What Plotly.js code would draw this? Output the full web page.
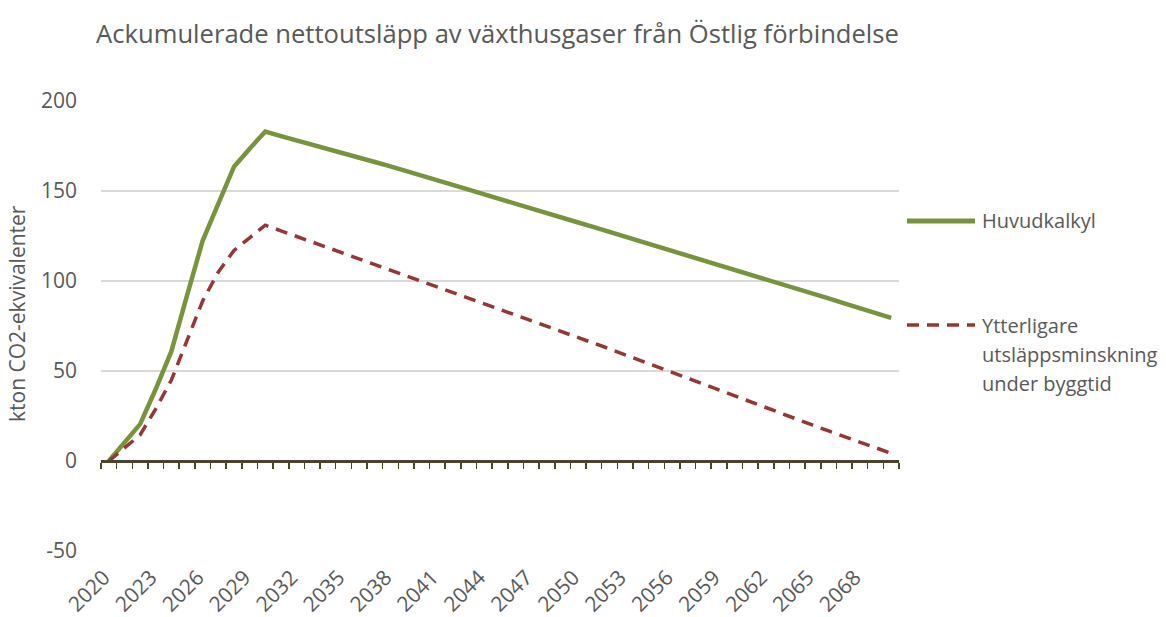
<!DOCTYPE html>
<html>
<head>
<meta charset="utf-8">
<script src="https://cdn.plot.ly/plotly-3.0.1.min.js"></script>
<style>html,body{margin:0;padding:0;background:#fff;}#chart{width:1166px;height:617px;}</style>
</head>
<body>
<div id="chart"></div>
<script>
// ---- Data ----
const years = [2020,2021,2022,2023,2024,2025,2026,2027,2028,2029,
               2030,2031,2032,2033,2034,2035,2036,2037,2038,2039,
               2040,2041,2042,2043,2044,2045,2046,2047,2048,2049,
               2050,2051,2052,2053,2054,2055,2056,2057,2058,2059,
               2060,2061,2062,2063,2064,2065,2066,2067,2068,2069,2070];

const huvudkalkyl = [0,10,20.5,40,61,92,122.5,143,163.5,173.5,
                     183,180.5,178.2,175.8,173.4,171,168.6,166.1,163.7,161.2,
                     158.9,156.1,153.5,150.8,148.1,145.4,142.8,140.2,137.6,135.1,
                     132.5,129.9,127.3,124.7,122.1,119.5,116.8,114.1,111.4,108.7,
                     106.1,103.5,100.8,98.2,95.6,93,90.3,87.6,84.9,82.2,79.5];

const ytterligare = [0,7,14.5,29,45,67,89,105,117,124,
                     131,127.9,124.8,121.7,118.6,115.5,112.4,109.2,106.1,103,
                     99.8,96.7,93.6,90.5,87.4,84.3,81.2,78.1,75,72,
                     68.9,65.6,62.3,59,55.7,52.4,49.1,45.8,42.5,39.2,
                     35.9,32.7,29.5,26.3,23.1,19.9,16.7,13.5,10.3,7.1,4.3];

const tickYears = [2020,2023,2026,2029,2032,2035,2038,2041,2044,2047,2050,2053,2056,2059,2062,2065,2068];
const yTicks = [-50,0,50,100,150,200];
const yTickText = ["-50","0","50","100","150","200"];

const seriesNames = ["Huvudkalkyl", "Ytterligare", "utsläppsminskning", "under byggtid"];
const titleText = "Ackumulerade nettoutsläpp av växthusgaser från Östlig förbindelse";
const yTitle = "kton CO2-ekvivalenter";

// ---- Styling ----
const FONT = "'Open Sans', 'Noto Sans', sans-serif";
const TXT = "#595959";
const GREEN = "#77933C";
const RED = "#953735";
const AXIS = "#4A452A";

const W = 1166, H = 617;
const M = {l: 101, r: 267, t: 101, b: 66};
const pw = W - M.l - M.r, ph = H - M.t - M.b;
const px = x => (x - M.l) / pw;
const py = y => (H - M.b - y) / ph;

const xRange = [years[0] - 0.5, years[years.length - 1] + 0.5];
const boundaries = years.map(y => y - 0.5).concat([years[years.length - 1] + 0.5]);

const traces = [
  {x: years, y: huvudkalkyl, type: "scatter", mode: "lines", name: "Huvudkalkyl",
   line: {color: GREEN, width: 4.5}, showlegend: false, hoverinfo: "x+y"},
  {x: years, y: ytterligare, type: "scatter", mode: "lines", name: "Ytterligare utsläppsminskning under byggtid",
   line: {color: RED, width: 3.5, dash: "12px,8px"}, showlegend: false, hoverinfo: "x+y"},
  // invisible trace so the category axis crossing at zero is drawn
  {x: [xRange[0]], y: [0], xaxis: "x2", yaxis: "y", mode: "markers", marker: {opacity: 0}, showlegend: false, hoverinfo: "skip"}
];

const legendLines = [
  {text: seriesNames[0], y: 220},
  {text: seriesNames[1], y: 325},
  {text: seriesNames[2], y: 354},
  {text: seriesNames[3], y: 383}
];

const layout = {
  width: W, height: H,
  margin: M,
  paper_bgcolor: "#fff", plot_bgcolor: "#fff",
  font: {family: FONT, color: TXT, size: 20},
  title: {text: titleText, x: 497.5 / W, xanchor: "center", y: 1 - 34 / H, yanchor: "middle", yref: "container",
          font: {family: FONT, size: 25.6, color: TXT}},
  xaxis: {range: xRange, tickmode: "array", tickvals: tickYears, ticktext: tickYears.map(String),
          tickangle: -45, ticks: "", showgrid: false, showline: false, zeroline: false,
          ticklabelstandoff: 9, ticklabelshift: -5, tickfont: {size: 21, color: TXT}},
  xaxis2: {overlaying: "x", anchor: "free", position: py(461), side: "bottom", range: xRange,
           tickmode: "array", tickvals: boundaries, showticklabels: false,
           ticks: "outside", ticklen: 6, tickwidth: 1.5, tickcolor: AXIS,
           showline: true, linecolor: AXIS, linewidth: 3, showgrid: false, zeroline: false},
  yaxis: {range: [-50, 200], tickmode: "array", tickvals: yTicks, ticktext: yTickText, ticks: "", showline: false,
          gridcolor: "#D9D9D9", gridwidth: 1.5, zeroline: false, ticklabelstandoff: 23,
          tickfont: {size: 21, color: TXT}},
  shapes: [
    {type: "line", xref: "paper", yref: "paper", x0: px(907), x1: px(975), y0: py(221), y1: py(221),
     line: {color: GREEN, width: 5}},
    {type: "line", xref: "paper", yref: "paper", x0: px(907), x1: px(975), y0: py(325), y1: py(325),
     line: {color: RED, width: 3.5, dash: "12px,8px"}}
  ],
  annotations: [
    {text: yTitle, xref: "paper", yref: "paper", x: px(17), y: py(314), textangle: -90,
     showarrow: false, xanchor: "center", yanchor: "middle", font: {size: 21, color: TXT}}
  ].concat(legendLines.map(l => ({
     text: l.text, xref: "paper", yref: "paper", x: px(980), y: py(l.y),
     showarrow: false, xanchor: "left", yanchor: "middle", font: {size: 20, color: TXT}})))
};

Plotly.newPlot("chart", traces, layout, {staticPlot: true, displayModeBar: false});
</script>
</body>
</html>
